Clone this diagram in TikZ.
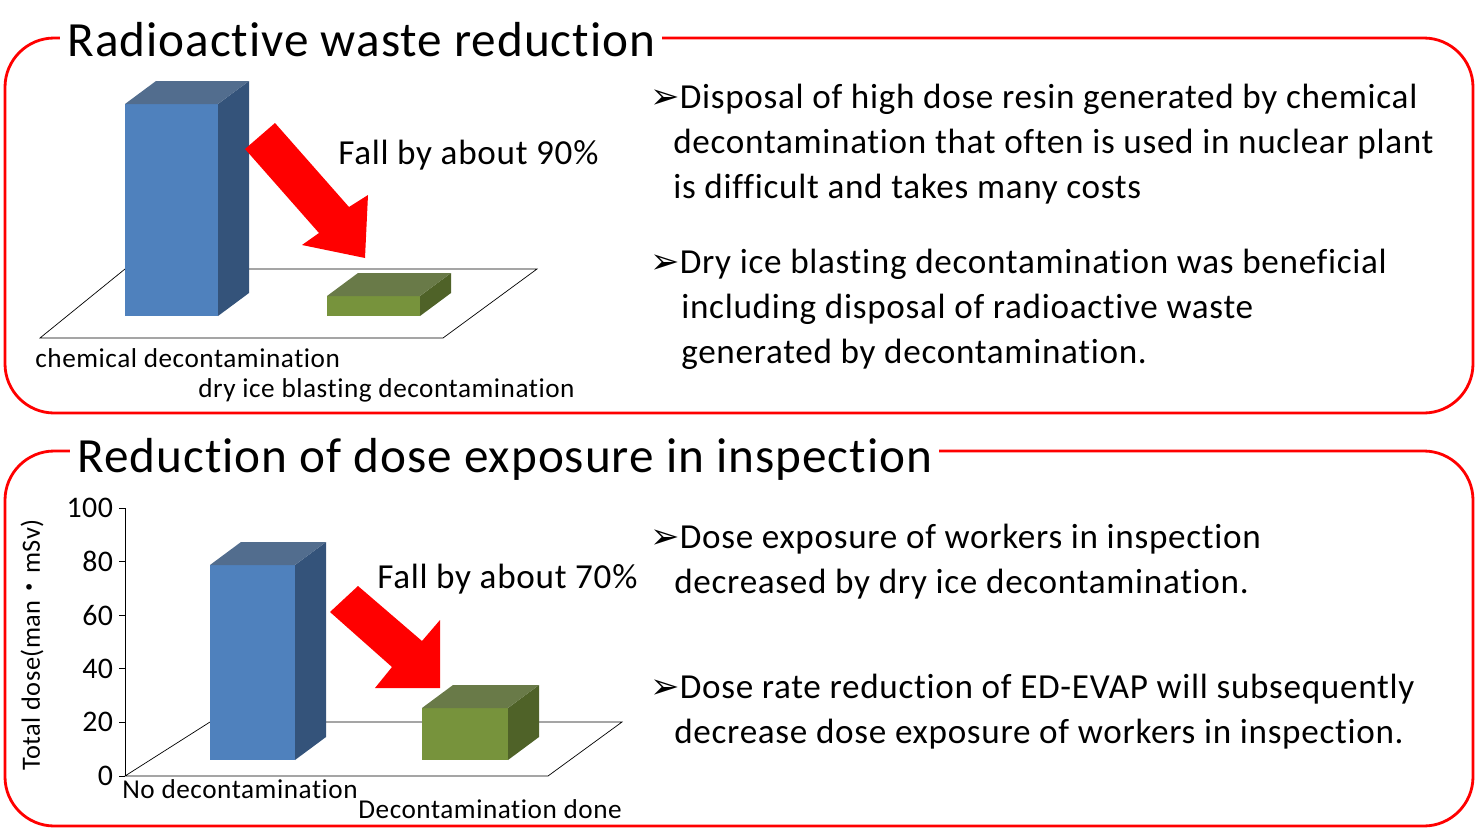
\documentclass[tikz,border=0pt]{standalone}
\usepackage{fontspec}
\setmainfont{Carlito}[Ligatures={NoCommon},LetterSpace=2]
\newfontfamily\symfont{DejaVu Sans}
\newfontfamily\cjkfont{Noto Sans CJK JP}
\definecolor{barblue}{RGB}{79,129,189}
\definecolor{barblueside}{RGB}{52,83,122}
\definecolor{bargreen}{RGB}{119,147,60}
\definecolor{bargreenside}{RGB}{79,98,40}
\newcommand{\bul}{{\symfont\char"27A2}}
\newcommand{\drawbar}[6]{% x1,y1,x2,y2,front,side
  \fill[#5] (#1,#2) rectangle (#3,#4);
  \fill[#6] (#3,#2) -- ++(31,-23) -- ++(0,#4-#2) -- (#3,#4) -- cycle;
  \fill[#6!85!white] (#1,#2) -- ++(31,-23) -- ++(#3-#1,0) -- (#3,#2) -- cycle;}
\begin{document}
\begin{tikzpicture}[x=0.02cm,y=-0.02cm,
  panel/.style={draw=red, line width=1.6pt, rounded corners=28pt},
  title/.style={fill=white, anchor=west, font=\fontsize{28}{32}\selectfont, inner xsep=4pt},
  bullet/.style={anchor=west, font=\fontsize{20}{23}\selectfont, inner sep=0pt},
  small/.style={anchor=west, font=\fontsize{15.5}{17}\selectfont, inner sep=0pt},
  fatarrow/.style={fill=red}]
\useasboundingbox (0,0) rectangle (1475,829);
% top panel
\draw[panel] (5,38) rectangle (1473,413);
\node[title] (t1) at (60,40) {Radioactive waste reduction};
\draw[black] (40,338) -- (443,338) -- (537,269) -- (125,269) -- cycle;
\drawbar{125}{104}{218}{316}{barblue}{barblueside}
\drawbar{327}{296}{420}{316}{bargreen}{bargreenside}
\fill[fatarrow] (245,149) -- (275,123) -- (349,207) -- (368,195) -- (365,258) -- (302,245) -- (319,233) -- cycle;
\node[small] (l1) at (35,358) {chemical decontamination};
\node[small] (l2) at (198,390) {dry ice blasting decontamination};
\node[bullet] (f1) at (338,155) {Fall by about 90\%};
\node[bullet] (b1) at (650,99) {\bul Disposal of high dose resin generated by chemical};
\node[bullet] at (673,144) {decontamination that often is used in nuclear plant};
\node[bullet] at (673,189) {is difficult and takes many costs};
\node[bullet] (b2) at (650,264) {\bul Dry ice blasting decontamination was beneficial};
\node[bullet] at (681,309) {including disposal of radioactive waste};
\node[bullet] at (681,354) {generated by decontamination.};
% bottom panel
\draw[panel] (5,451) rectangle (1473,826);
\node[title] (t2) at (70,459) {Reduction of dose exposure in inspection};
\draw[black] (125,776) -- (548,776) -- (622,722) -- (210,722) -- cycle;
\draw[black] (125,508) -- (125,776);
\foreach \v [count=\i from 0] in {0,20,40,60,80,100} {
  \draw[black] (119,776-53.6*\i) -- (125,776-53.6*\i);
  \node[anchor=east, font=\fontsize{17}{19}\selectfont, inner sep=2pt] at (117,776-53.6*\i) {\v};}
\node[rotate=90, font=\fontsize{15}{17}\selectfont] (ylab) at (32,645) {Total dose(man{\cjkfont ・}mSv)};
\drawbar{210}{565}{295}{760}{barblue}{barblueside}
\drawbar{422}{708}{508}{760}{bargreen}{bargreenside}
\fill[fatarrow] (330,612) -- (358,586) -- (422,641) -- (440,620) -- (440,688) -- (375,688) -- (392,667) -- cycle;
\node[small] (l3) at (122,789) {No decontamination};
\node[small] (l4) at (358,809) {Decontamination done};
\node[bullet] (f2) at (377,579) {Fall by about 70\%};
\node[bullet] (b3) at (650,539) {\bul Dose exposure of workers in inspection};
\node[bullet] at (674,584) {decreased by dry ice decontamination.};
\node[bullet] (b4) at (650,689) {\bul Dose rate reduction of ED-EVAP will subsequently};
\node[bullet] at (674,734) {decrease dose exposure of workers in inspection.};
\end{tikzpicture}
\end{document}
